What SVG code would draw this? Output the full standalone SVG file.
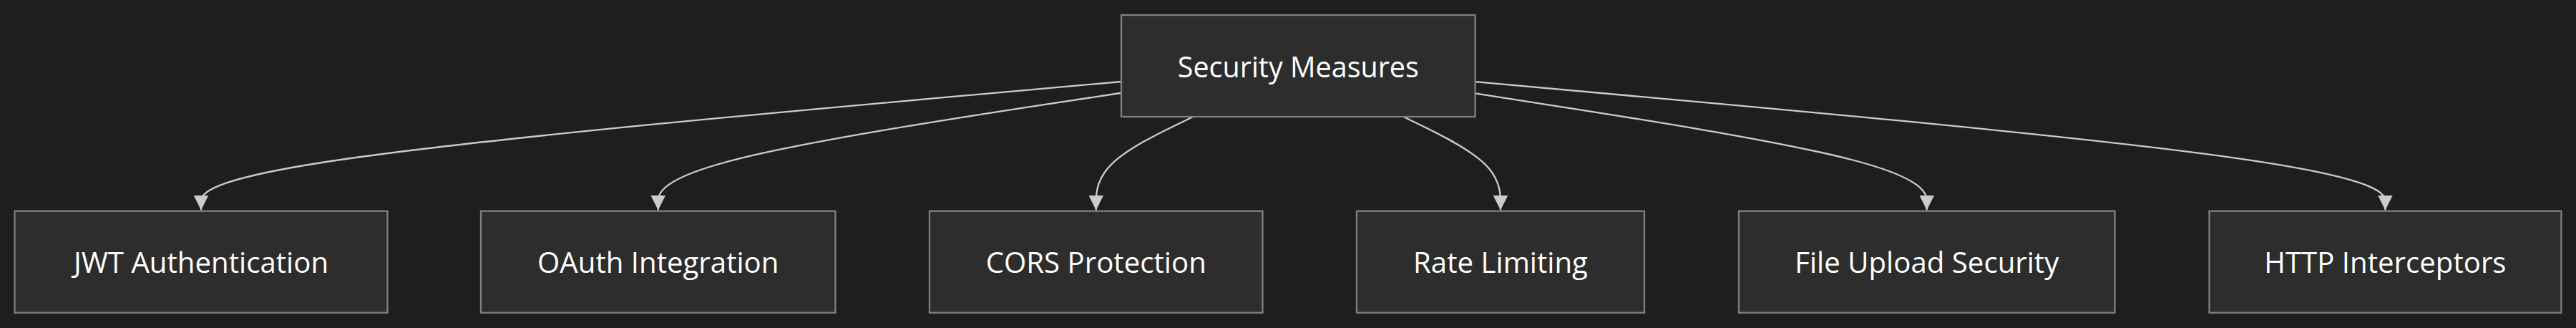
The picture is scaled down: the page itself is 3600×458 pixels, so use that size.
<svg xmlns="http://www.w3.org/2000/svg" width="3600" height="458" viewBox="0 0 3600 458">
<style>
.bg{fill:#1e1e1e}
.node rect{fill:#2d2d2d;stroke:#808080;stroke-width:2.3}
.node text{fill:#ffffff;font-family:"Open Sans","Noto Sans","DejaVu Sans",sans-serif;font-size:40.2px;text-anchor:middle}
#security-measures text{font-size:39.5px}
.edge{fill:none;stroke:#cccccc;stroke-width:2.3;marker-end:url(#arrow)}
</style>
<defs>
<marker id="arrow" viewBox="0 0 10 10" refX="10" refY="5" markerUnits="userSpaceOnUse" markerWidth="21" markerHeight="22" orient="auto">
<path d="M0,0 L10,5 L0,10 z" fill="#cccccc"/>
</marker>
</defs>
<rect class="bg" x="0" y="0" width="3600" height="458"/>
<g id="connectors">
<path class="edge" d="M1567,114 L1352.67,133.08 C1138.33,152.17 709.67,190.33 495.33,220.25 C281,250.17 281,271.83 281,282.67 L281,293.5"/>
<path class="edge" d="M1567,129.74 L1459.13,146.2 C1351.25,162.66 1135.5,195.58 1027.63,222.87 C919.75,250.17 919.75,271.83 919.75,282.67 L919.75,293.5"/>
<path class="edge" d="M1667.33,163 L1644.73,173.92 C1622.14,184.83 1576.94,206.67 1554.35,228.42 C1531.75,250.17 1531.75,271.83 1531.75,282.67 L1531.75,293.5"/>
<path class="edge" d="M1961.35,163 L1983.96,173.92 C2006.57,184.83 2051.78,206.67 2074.39,228.42 C2097,250.17 2097,271.83 2097,282.67 L2097,293.5"/>
<path class="edge" d="M2061.6,130.43 L2166.79,146.78 C2271.98,163.12 2482.37,195.81 2587.56,222.99 C2692.75,250.17 2692.75,271.83 2692.75,282.67 L2692.75,293.5"/>
<path class="edge" d="M2061.6,114.22 L2273.58,133.27 C2485.55,152.31 2909.5,190.41 3121.48,220.29 C3333.45,250.17 3333.45,271.83 3333.45,282.67 L3333.45,293.5"/>
</g>
<g id="security-measures" class="node">
<rect x="1567" y="21" width="494.6" height="142"/>
<text x="1814.3" y="107.5">Security Measures</text>
</g>
<g id="jwt-authentication" class="node">
<rect x="20.5" y="294.7" width="521" height="142"/>
<text x="281" y="381.2">JWT Authentication</text>
</g>
<g id="oauth-integration" class="node">
<rect x="672" y="294.7" width="495.5" height="142"/>
<text x="919.75" y="381.2">OAuth Integration</text>
</g>
<g id="cors-protection" class="node">
<rect x="1299" y="294.7" width="465.5" height="142"/>
<text x="1531.75" y="381.2">CORS Protection</text>
</g>
<g id="rate-limiting" class="node">
<rect x="1896" y="294.7" width="402" height="142"/>
<text x="2097" y="381.2">Rate Limiting</text>
</g>
<g id="file-upload-security" class="node">
<rect x="2430" y="294.7" width="525.5" height="142"/>
<text x="2692.75" y="381.2">File Upload Security</text>
</g>
<g id="http-interceptors" class="node">
<rect x="3087.5" y="294.7" width="491.9" height="142"/>
<text x="3333.45" y="381.2">HTTP Interceptors</text>
</g>
</svg>
